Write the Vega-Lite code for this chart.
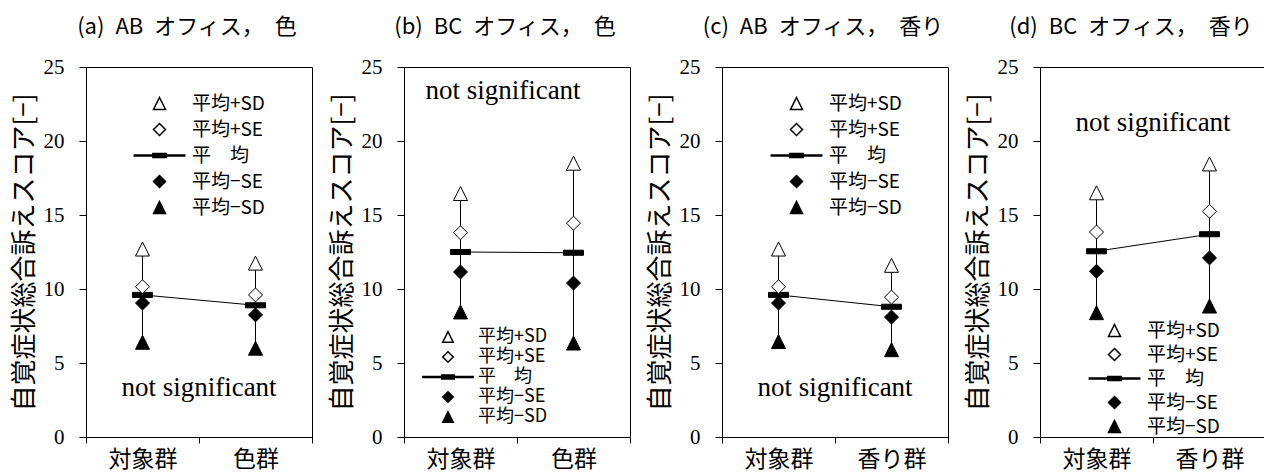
{
  "$schema": "https://vega.github.io/schema/vega-lite/v6.json",
  "background": "white",
  "padding": {"left": 10, "top": 15, "right": 0, "bottom": 0},
  "spacing": 15,
  "config": {
    "view": {"stroke": "black", "strokeWidth": 1},
    "axis": {"domainColor": "black", "tickColor": "black", "labelColor": "black", "titleColor": "black", "grid": false},
    "title": {"font": "Noto Sans CJK JP", "fontSize": 22, "fontWeight": "normal", "color": "black", "anchor": "middle", "offset": 17, "dx": -12}
  },
  "data": {"values": [
    {"p": "a", "g": "対象群", "sdp": 12.7, "sep": 10.15, "m": 9.6, "sem": 9.05, "sdm": 6.4},
    {"p": "a", "g": "色群", "sdp": 11.75, "sep": 9.6, "m": 8.9, "sem": 8.25, "sdm": 6.0},
    {"p": "b", "g": "対象群", "sdp": 16.45, "sep": 13.8, "m": 12.5, "sem": 11.15, "sdm": 8.45},
    {"p": "b", "g": "色群", "sdp": 18.5, "sep": 14.45, "m": 12.45, "sem": 10.4, "sdm": 6.35},
    {"p": "c", "g": "対象群", "sdp": 12.7, "sep": 10.15, "m": 9.6, "sem": 9.05, "sdm": 6.45},
    {"p": "c", "g": "香り群", "sdp": 11.6, "sep": 9.45, "m": 8.8, "sem": 8.1, "sdm": 5.9},
    {"p": "d", "g": "対象群", "sdp": 16.5, "sep": 13.85, "m": 12.55, "sem": 11.2, "sdm": 8.4},
    {"p": "d", "g": "香り群", "sdp": 18.45, "sep": 15.25, "m": 13.7, "sem": 12.1, "sdm": 8.85}
  ]},
  "resolve": {"scale": {"shape": "independent", "fill": "independent"}, "legend": {"shape": "independent", "fill": "independent"}},
  "hconcat": [
    {
      "title": "(a)\u2002AB\u2002オフィス，\u2002色",
      "width": 226, "height": 370,
      "layer": [
        {"transform": [{"filter": "datum.p === 'a'"}],
         "mark": {"type": "rule", "color": "black", "strokeWidth": 1},
         "encoding": {"x": {"field": "g", "type": "nominal", "sort": null, "scale": {"paddingInner": 0, "paddingOuter": 0},
                            "axis": {"title": null, "labelAngle": 0, "tickBand": "extent", "tickSize": 6, "labelFont": "Noto Sans CJK JP", "labelFontSize": 23, "labelPadding": 5}},
                      "y": {"field": "sdm", "type": "quantitative", "scale": {"domain": [0, 25], "nice": false},
                            "axis": {"title": "自覚症状総合訴えスコア[−]", "values": [0, 5, 10, 15, 20, 25], "tickSize": 7, "labelFont": "Liberation Serif", "labelFontSize": 21, "labelPadding": 15, "titleFont": "Noto Sans CJK JP", "titleFontSize": 26, "titleFontWeight": "normal", "titlePadding": 6}},
                      "y2": {"field": "sdp"}}},
        {"transform": [{"filter": "datum.p === 'a'"}],
         "mark": {"type": "line", "color": "black", "strokeWidth": 1},
         "encoding": {"x": {"field": "g", "type": "nominal", "sort": null}, "y": {"field": "m", "type": "quantitative"}}},
        {"transform": [{"filter": "datum.p === 'a'"}],
         "mark": {"type": "point", "shape": "M-1.43,-0.36H1.43V0.36H-1.43Z", "fill": "black", "stroke": "black", "strokeWidth": 1, "opacity": 1, "fillOpacity": 1, "size": 196},
         "encoding": {"x": {"field": "g", "type": "nominal", "sort": null}, "y": {"field": "m", "type": "quantitative"}}},
        {"transform": [{"filter": "datum.p === 'a'"}, {"fold": ["sdp", "sep", "m", "sem", "sdm"], "as": ["stat", "val"]}, {"filter": "datum.stat !== 'm'"}],
         "mark": {"type": "point", "stroke": "black", "strokeWidth": 1, "opacity": 1, "fillOpacity": 1, "size": 196},
         "encoding": {
           "x": {"field": "g", "type": "nominal", "sort": null},
           "y": {"field": "val", "type": "quantitative"},
           "shape": {"field": "stat", "type": "nominal",
                     "scale": {"domain": ["sdp", "sep", "m", "sem", "sdm"], "range": ["M0,-1L1,1L-1,1Z", "M0,-1L1,0L0,1L-1,0Z", "M-4.2,-0.09H4.2V0.09H-4.2ZM-1.1,-0.33H1.1V0.33H-1.1Z", "M0,-1L1,0L0,1L-1,0Z", "M0,-1L1,1L-1,1Z"]},
                     "legend": {"orient": "none", "legendX": 64, "legendY": 27, "title": null, "padding": 0, "labelFont": "Noto Sans CJK JP", "labelFontSize": 19, "labelColor": "black", "labelOffset": 23, "rowPadding": 6, "symbolSize": 144,
                                "labelExpr": "datum.label==='sdp' ? '平均+SD' : datum.label==='sep' ? '平均+SE' : datum.label==='m' ? '平　均' : datum.label==='sem' ? '平均−SE' : '平均−SD'",
                                "encode": {"symbols": {"update": {
                                  "fill": {"signal": "(datum.value==='sdp'||datum.value==='sep') ? 'white' : 'black'"},
                                  "stroke": {"value": "black"}, "strokeWidth": {"value": 1}, "opacity": {"value": 1}}}}}},
           "fill": {"field": "stat", "type": "nominal", "scale": {"domain": ["sdp", "sep", "m", "sem", "sdm"], "range": ["white", "white", "black", "black", "black"]}, "legend": null}
         }},
        {"data": {"values": [{"note": "not significant"}]},
         "mark": {"type": "text", "font": "Liberation Serif", "fontSize": 27, "color": "black"},
         "encoding": {"text": {"field": "note"}, "y": {"datum": 3.3}}}
      ]
    },
    {
      "title": "(b)\u2002BC\u2002オフィス，\u2002色",
      "width": 226, "height": 370,
      "layer": [
        {"transform": [{"filter": "datum.p === 'b'"}],
         "mark": {"type": "rule", "color": "black", "strokeWidth": 1},
         "encoding": {"x": {"field": "g", "type": "nominal", "sort": null, "scale": {"paddingInner": 0, "paddingOuter": 0},
                            "axis": {"title": null, "labelAngle": 0, "tickBand": "extent", "tickSize": 6, "labelFont": "Noto Sans CJK JP", "labelFontSize": 23, "labelPadding": 5}},
                      "y": {"field": "sdm", "type": "quantitative", "scale": {"domain": [0, 25], "nice": false},
                            "axis": {"title": "自覚症状総合訴えスコア[−]", "values": [0, 5, 10, 15, 20, 25], "tickSize": 7, "labelFont": "Liberation Serif", "labelFontSize": 21, "labelPadding": 15, "titleFont": "Noto Sans CJK JP", "titleFontSize": 26, "titleFontWeight": "normal", "titlePadding": 6}},
                      "y2": {"field": "sdp"}}},
        {"transform": [{"filter": "datum.p === 'b'"}],
         "mark": {"type": "line", "color": "black", "strokeWidth": 1},
         "encoding": {"x": {"field": "g", "type": "nominal", "sort": null}, "y": {"field": "m", "type": "quantitative"}}},
        {"transform": [{"filter": "datum.p === 'b'"}],
         "mark": {"type": "point", "shape": "M-1.43,-0.36H1.43V0.36H-1.43Z", "fill": "black", "stroke": "black", "strokeWidth": 1, "opacity": 1, "fillOpacity": 1, "size": 196},
         "encoding": {"x": {"field": "g", "type": "nominal", "sort": null}, "y": {"field": "m", "type": "quantitative"}}},
        {"transform": [{"filter": "datum.p === 'b'"}, {"fold": ["sdp", "sep", "m", "sem", "sdm"], "as": ["stat", "val"]}, {"filter": "datum.stat !== 'm'"}],
         "mark": {"type": "point", "stroke": "black", "strokeWidth": 1, "opacity": 1, "fillOpacity": 1, "size": 196},
         "encoding": {
           "x": {"field": "g", "type": "nominal", "sort": null},
           "y": {"field": "val", "type": "quantitative"},
           "shape": {"field": "stat", "type": "nominal",
                     "scale": {"domain": ["sdp", "sep", "m", "sem", "sdm"], "range": ["M0,-1L1,1L-1,1Z", "M0,-1L1,0L0,1L-1,0Z", "M-4.8,-0.1H4.8V0.1H-4.8ZM-1.2,-0.36H1.2V0.36H-1.2Z", "M0,-1L1,0L0,1L-1,0Z", "M0,-1L1,1L-1,1Z"]},
                     "legend": {"orient": "none", "legendX": 35, "legendY": 261, "title": null, "padding": 0, "labelFont": "Noto Sans CJK JP", "labelFontSize": 18, "labelColor": "black", "labelOffset": 21, "rowPadding": 2, "symbolSize": 110,
                                "labelExpr": "datum.label==='sdp' ? '平均+SD' : datum.label==='sep' ? '平均+SE' : datum.label==='m' ? '平　均' : datum.label==='sem' ? '平均−SE' : '平均−SD'",
                                "encode": {"symbols": {"update": {
                                  "fill": {"signal": "(datum.value==='sdp'||datum.value==='sep') ? 'white' : 'black'"},
                                  "stroke": {"value": "black"}, "strokeWidth": {"value": 1}, "opacity": {"value": 1}}}}}},
           "fill": {"field": "stat", "type": "nominal", "scale": {"domain": ["sdp", "sep", "m", "sem", "sdm"], "range": ["white", "white", "black", "black", "black"]}, "legend": null}
         }},
        {"data": {"values": [{"note": "not significant"}]},
         "mark": {"type": "text", "font": "Liberation Serif", "fontSize": 27, "color": "black", "dx": -14},
         "encoding": {"text": {"field": "note"}, "y": {"datum": 23.4}}}
      ]
    },
    {
      "title": "(c)\u2002AB\u2002オフィス，\u2002香り",
      "width": 226, "height": 370,
      "layer": [
        {"transform": [{"filter": "datum.p === 'c'"}],
         "mark": {"type": "rule", "color": "black", "strokeWidth": 1},
         "encoding": {"x": {"field": "g", "type": "nominal", "sort": null, "scale": {"paddingInner": 0, "paddingOuter": 0},
                            "axis": {"title": null, "labelAngle": 0, "tickBand": "extent", "tickSize": 6, "labelFont": "Noto Sans CJK JP", "labelFontSize": 23, "labelPadding": 5}},
                      "y": {"field": "sdm", "type": "quantitative", "scale": {"domain": [0, 25], "nice": false},
                            "axis": {"title": "自覚症状総合訴えスコア[−]", "values": [0, 5, 10, 15, 20, 25], "tickSize": 7, "labelFont": "Liberation Serif", "labelFontSize": 21, "labelPadding": 15, "titleFont": "Noto Sans CJK JP", "titleFontSize": 26, "titleFontWeight": "normal", "titlePadding": 6}},
                      "y2": {"field": "sdp"}}},
        {"transform": [{"filter": "datum.p === 'c'"}],
         "mark": {"type": "line", "color": "black", "strokeWidth": 1},
         "encoding": {"x": {"field": "g", "type": "nominal", "sort": null}, "y": {"field": "m", "type": "quantitative"}}},
        {"transform": [{"filter": "datum.p === 'c'"}],
         "mark": {"type": "point", "shape": "M-1.43,-0.36H1.43V0.36H-1.43Z", "fill": "black", "stroke": "black", "strokeWidth": 1, "opacity": 1, "fillOpacity": 1, "size": 196},
         "encoding": {"x": {"field": "g", "type": "nominal", "sort": null}, "y": {"field": "m", "type": "quantitative"}}},
        {"transform": [{"filter": "datum.p === 'c'"}, {"fold": ["sdp", "sep", "m", "sem", "sdm"], "as": ["stat", "val"]}, {"filter": "datum.stat !== 'm'"}],
         "mark": {"type": "point", "stroke": "black", "strokeWidth": 1, "opacity": 1, "fillOpacity": 1, "size": 196},
         "encoding": {
           "x": {"field": "g", "type": "nominal", "sort": null},
           "y": {"field": "val", "type": "quantitative"},
           "shape": {"field": "stat", "type": "nominal",
                     "scale": {"domain": ["sdp", "sep", "m", "sem", "sdm"], "range": ["M0,-1L1,1L-1,1Z", "M0,-1L1,0L0,1L-1,0Z", "M-4.2,-0.09H4.2V0.09H-4.2ZM-1.1,-0.33H1.1V0.33H-1.1Z", "M0,-1L1,0L0,1L-1,0Z", "M0,-1L1,1L-1,1Z"]},
                     "legend": {"orient": "none", "legendX": 65, "legendY": 27, "title": null, "padding": 0, "labelFont": "Noto Sans CJK JP", "labelFontSize": 19, "labelColor": "black", "labelOffset": 23, "rowPadding": 6, "symbolSize": 144,
                                "labelExpr": "datum.label==='sdp' ? '平均+SD' : datum.label==='sep' ? '平均+SE' : datum.label==='m' ? '平　均' : datum.label==='sem' ? '平均−SE' : '平均−SD'",
                                "encode": {"symbols": {"update": {
                                  "fill": {"signal": "(datum.value==='sdp'||datum.value==='sep') ? 'white' : 'black'"},
                                  "stroke": {"value": "black"}, "strokeWidth": {"value": 1}, "opacity": {"value": 1}}}}}},
           "fill": {"field": "stat", "type": "nominal", "scale": {"domain": ["sdp", "sep", "m", "sem", "sdm"], "range": ["white", "white", "black", "black", "black"]}, "legend": null}
         }},
        {"data": {"values": [{"note": "not significant"}]},
         "mark": {"type": "text", "font": "Liberation Serif", "fontSize": 27, "color": "black"},
         "encoding": {"text": {"field": "note"}, "y": {"datum": 3.3}}}
      ]
    },
    {
      "title": {"text": "(d)\u2002BC\u2002オフィス，\u2002香り", "dx": -22},
      "width": 226, "height": 370,
      "layer": [
        {"transform": [{"filter": "datum.p === 'd'"}],
         "mark": {"type": "rule", "color": "black", "strokeWidth": 1},
         "encoding": {"x": {"field": "g", "type": "nominal", "sort": null, "scale": {"paddingInner": 0, "paddingOuter": 0},
                            "axis": {"title": null, "labelAngle": 0, "tickBand": "extent", "tickSize": 6, "labelFont": "Noto Sans CJK JP", "labelFontSize": 23, "labelPadding": 5}},
                      "y": {"field": "sdm", "type": "quantitative", "scale": {"domain": [0, 25], "nice": false},
                            "axis": {"title": "自覚症状総合訴えスコア[−]", "values": [0, 5, 10, 15, 20, 25], "tickSize": 7, "labelFont": "Liberation Serif", "labelFontSize": 21, "labelPadding": 15, "titleFont": "Noto Sans CJK JP", "titleFontSize": 26, "titleFontWeight": "normal", "titlePadding": 6}},
                      "y2": {"field": "sdp"}}},
        {"transform": [{"filter": "datum.p === 'd'"}],
         "mark": {"type": "line", "color": "black", "strokeWidth": 1},
         "encoding": {"x": {"field": "g", "type": "nominal", "sort": null}, "y": {"field": "m", "type": "quantitative"}}},
        {"transform": [{"filter": "datum.p === 'd'"}],
         "mark": {"type": "point", "shape": "M-1.43,-0.36H1.43V0.36H-1.43Z", "fill": "black", "stroke": "black", "strokeWidth": 1, "opacity": 1, "fillOpacity": 1, "size": 196},
         "encoding": {"x": {"field": "g", "type": "nominal", "sort": null}, "y": {"field": "m", "type": "quantitative"}}},
        {"transform": [{"filter": "datum.p === 'd'"}, {"fold": ["sdp", "sep", "m", "sem", "sdm"], "as": ["stat", "val"]}, {"filter": "datum.stat !== 'm'"}],
         "mark": {"type": "point", "stroke": "black", "strokeWidth": 1, "opacity": 1, "fillOpacity": 1, "size": 196},
         "encoding": {
           "x": {"field": "g", "type": "nominal", "sort": null},
           "y": {"field": "val", "type": "quantitative"},
           "shape": {"field": "stat", "type": "nominal",
                     "scale": {"domain": ["sdp", "sep", "m", "sem", "sdm"], "range": ["M0,-1L1,1L-1,1Z", "M0,-1L1,0L0,1L-1,0Z", "M-4.2,-0.09H4.2V0.09H-4.2ZM-1.1,-0.33H1.1V0.33H-1.1Z", "M0,-1L1,0L0,1L-1,0Z", "M0,-1L1,1L-1,1Z"]},
                     "legend": {"orient": "none", "legendX": 65, "legendY": 254, "title": null, "padding": 0, "labelFont": "Noto Sans CJK JP", "labelFontSize": 19, "labelColor": "black", "labelOffset": 23, "rowPadding": 4, "symbolSize": 144,
                                "labelExpr": "datum.label==='sdp' ? '平均+SD' : datum.label==='sep' ? '平均+SE' : datum.label==='m' ? '平　均' : datum.label==='sem' ? '平均−SE' : '平均−SD'",
                                "encode": {"symbols": {"update": {
                                  "fill": {"signal": "(datum.value==='sdp'||datum.value==='sep') ? 'white' : 'black'"},
                                  "stroke": {"value": "black"}, "strokeWidth": {"value": 1}, "opacity": {"value": 1}}}}}},
           "fill": {"field": "stat", "type": "nominal", "scale": {"domain": ["sdp", "sep", "m", "sem", "sdm"], "range": ["white", "white", "black", "black", "black"]}, "legend": null}
         }},
        {"data": {"values": [{"note": "not significant"}]},
         "mark": {"type": "text", "font": "Liberation Serif", "fontSize": 27, "color": "black"},
         "encoding": {"text": {"field": "note"}, "y": {"datum": 21.2}}}
      ]
    }
  ]
}
